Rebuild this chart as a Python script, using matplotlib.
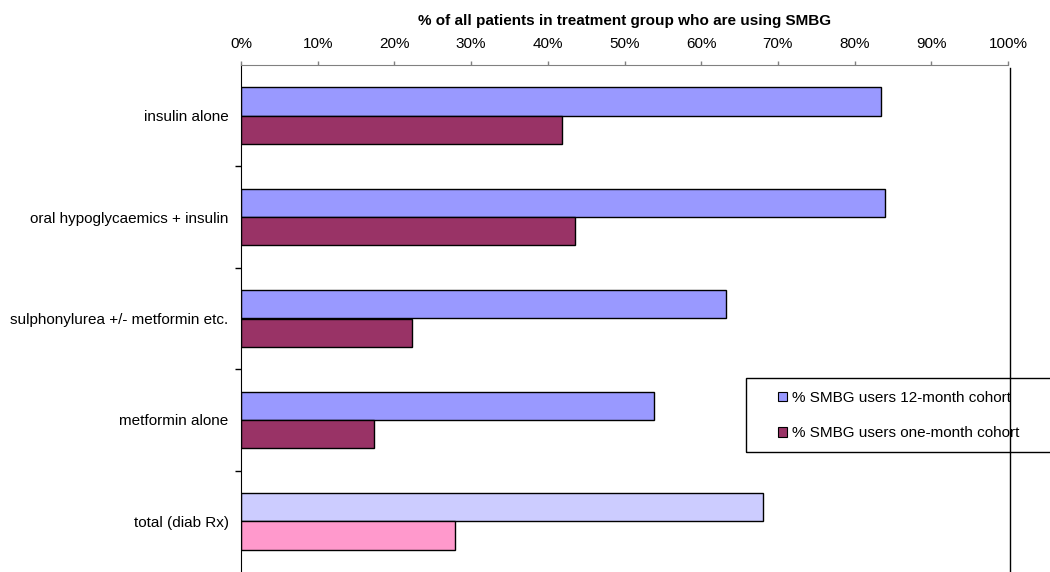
import numpy as np
import matplotlib.pyplot as plt
from matplotlib.patches import Rectangle, Patch
from matplotlib.lines import Line2D

plt.rcParams['font.family'] = ['Liberation Sans', 'DejaVu Sans']

# SMBG use by diabetes treatment group
groups = ["insulin alone", "oral hypoglycaemics + insulin",
          "sulphonylurea +/- metformin etc.", "metformin alone", "total (diab Rx)"]
cohort_12m = [83.5, 84.0, 63.2, 53.8, 68.1]
cohort_1m = [41.8, 43.6, 22.3, 17.4, 27.9]
series_names = ["% SMBG users 12-month cohort", "% SMBG users one-month cohort"]

# the total row is shaded lighter than the treatment groups
colors_12m = ["#9999FF"] * 4 + ["#CCCCFF"]
colors_1m = ["#993366"] * 4 + ["#FF99CC"]

W, H = 1050, 572
fig = plt.figure(figsize=(W / 100, H / 100), dpi=100)
ax = fig.add_axes([241 / W, 0, 767 / W, 507 / H])

y = np.arange(len(groups))
h = 0.28
ax.barh(y - h / 2, cohort_12m, height=h, color=colors_12m, edgecolor="black", linewidth=1)
ax.barh(y + h / 2, cohort_1m, height=h, color=colors_1m, edgecolor="black", linewidth=1)

ax.set_xlim(0, 100)
ax.set_ylim(len(groups) - 0.5, -0.5)

ax.xaxis.tick_top()
ax.xaxis.set_label_position("top")
ax.set_xticks(range(0, 101, 10))
ax.set_xticklabels([f"{v}%" for v in range(0, 101, 10)], fontsize=11)
ax.tick_params(axis="x", direction="out", length=3, width=1, color="#808080", pad=7)
ax.set_xlabel("% of all patients in treatment group who are using SMBG",
              fontsize=11, fontweight="bold", labelpad=8.5)

ax.set_yticks(y)
ax.set_yticklabels(groups, fontsize=11)
ax.set_yticks(np.arange(0.5, len(groups) - 1, 1), minor=True)
ax.tick_params(axis="y", which="major", length=0, pad=9)
ax.tick_params(axis="y", which="minor", length=4, width=1, color="black")

ax.spines["right"].set_visible(False)
ax.spines["bottom"].set_visible(False)
ax.spines["top"].set_color("#808080")
ax.spines["left"].set_color("black")

# vertical rule at the right of the plot
fig.add_artist(Line2D([1010 / W, 1010 / W], [0, 1 - 68 / H], color="black", lw=1, zorder=10))

# legend box running off the right edge
fig.add_artist(Rectangle((746 / W, 1 - 452 / H), 0.3, 74 / H, transform=fig.transFigure,
                         fill=False, edgecolor="black", lw=1))
handles = [Patch(facecolor="#9999FF", edgecolor="black", lw=0.8),
           Patch(facecolor="#993366", edgecolor="black", lw=0.8)]
fig.legend(handles, series_names, loc="upper left", bbox_to_anchor=(778 / W, 1 - 391 / H),
           frameon=False, fontsize=11, handlelength=0.6, handleheight=0.6,
           handletextpad=0.3, labelspacing=1.4, borderpad=0, borderaxespad=0)

fig.savefig("out.png", dpi=100)
